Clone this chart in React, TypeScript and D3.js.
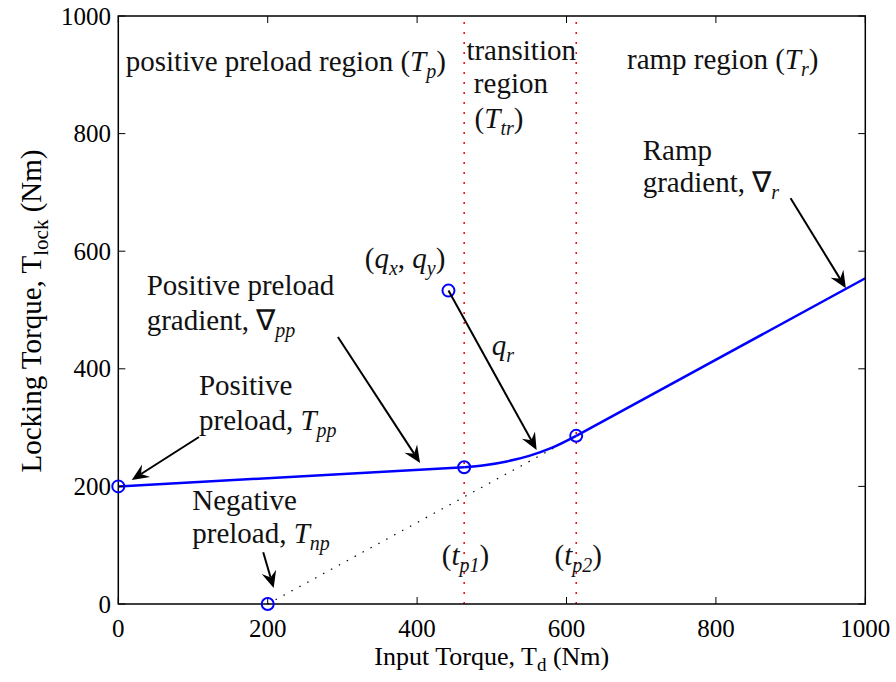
import React, { useEffect, useRef } from 'react';
import * as d3 from 'd3';

// curve (Nm)
const preloadX = [0, 463];
const preloadY = [200, 232.5];
const transitionX = [463, 490, 520, 550, 580, 613];
const transitionY = [232.5, 236, 242.5, 252, 265.5, 286];
const rampX = [613, 1000];
const rampY = [286, 554];
const extensionX = [200, 613];
const extensionY = [0, 286];
const markerX = [0, 200, 463, 613, 442];
const markerY = [200, 0, 232.5, 286, 533];
const boundaryX = [463, 613];
const xTicks = [0, 200, 400, 600, 800, 1000];
const yTicks = [0, 200, 400, 600, 800, 1000];

type Seg = { t: string; it?: boolean; sub?: boolean };
// annotation texts, positions in data units
const labels: { x: number; y: number; segs: Seg[] }[] = [
  { x: 10, y: 906, segs: [{ t: 'positive preload region (' }, { t: 'T', it: true }, { t: 'p', it: true, sub: true }, { t: ')' }] },
  { x: 466, y: 925, segs: [{ t: 'transition' }] },
  { x: 476, y: 869, segs: [{ t: 'region' }] },
  { x: 477, y: 809, segs: [{ t: '(' }, { t: 'T', it: true }, { t: 'tr', it: true, sub: true }, { t: ')' }] },
  { x: 681, y: 910, segs: [{ t: 'ramp region (' }, { t: 'T', it: true }, { t: 'r', it: true, sub: true }, { t: ')' }] },
  { x: 702, y: 755, segs: [{ t: 'Ramp' }] },
  { x: 702, y: 700, segs: [{ t: 'gradient, ∇' }, { t: 'r', it: true, sub: true }] },
  { x: 330, y: 571, segs: [{ t: '(' }, { t: 'q', it: true }, { t: 'x', it: true, sub: true }, { t: ', ' }, { t: 'q', it: true }, { t: 'y', it: true, sub: true }, { t: ')' }] },
  { x: 38, y: 525, segs: [{ t: 'Positive preload' }] },
  { x: 38, y: 466, segs: [{ t: 'gradient, ∇' }, { t: 'pp', it: true, sub: true }] },
  { x: 108, y: 355, segs: [{ t: 'Positive' }] },
  { x: 108, y: 296, segs: [{ t: 'preload, ' }, { t: 'T', it: true }, { t: 'pp', it: true, sub: true }] },
  { x: 500, y: 423, segs: [{ t: 'q', it: true }, { t: 'r', it: true, sub: true }] },
  { x: 99, y: 160, segs: [{ t: 'Negative' }] },
  { x: 99, y: 104, segs: [{ t: 'preload, ' }, { t: 'T', it: true }, { t: 'np', it: true, sub: true }] },
  { x: 433, y: 66, segs: [{ t: '(' }, { t: 't', it: true }, { t: 'p1', it: true, sub: true }, { t: ')' }] },
  { x: 584, y: 66, segs: [{ t: '(' }, { t: 't', it: true }, { t: 'p2', it: true, sub: true }, { t: ')' }] },
];

// arrows [x0, y0, x1, y1] in data units
const arrows = [
  [108, 284, 18, 211],
  [294, 454, 404, 240],
  [442, 533, 560, 262],
  [900, 690, 974, 537],
  [194, 88, 208, 27],
];

const W = 896, H = 682;
const FONT = '"Liberation Serif", "Times New Roman", serif';

export default function App() {
  const ref = useRef<SVGSVGElement>(null);

  useEffect(() => {
    document.body.style.margin = '0';
    const svg = d3.select(ref.current);
    svg.selectAll('*').remove();

    const x = d3.scaleLinear().domain([0, 1000]).range([118.3, 865.3]);
    const y = d3.scaleLinear().domain([0, 1000]).range([604, 16]);
    const [x0, x1] = x.range();
    const [y0, y1] = y.range();

    // red boundaries
    svg.selectAll('.bound').data(boundaryX).join('line')
      .attr('x1', d => x(d)).attr('x2', d => x(d))
      .attr('y1', y0).attr('y2', y1)
      .attr('stroke', '#ff0000').attr('stroke-width', 1.5)
      .attr('stroke-dasharray', '2,8');

    // ramp extension (dotted)
    const lineGen = d3.line<[number, number]>().x(d => x(d[0])).y(d => y(d[1]));
    svg.append('path')
      .attr('d', lineGen(d3.zip(extensionX, extensionY) as [number, number][]))
      .attr('fill', 'none').attr('stroke', '#000').attr('stroke-width', 1.2)
      .attr('stroke-dasharray', '1.5,7.5');

    // blue curve
    const blue = '#0000ff';
    svg.append('path')
      .attr('d', lineGen(d3.zip(preloadX, preloadY) as [number, number][]))
      .attr('fill', 'none').attr('stroke', blue).attr('stroke-width', 2.5);
    svg.append('path')
      .attr('d', lineGen.curve(d3.curveMonotoneX)(d3.zip(transitionX, transitionY) as [number, number][]))
      .attr('fill', 'none').attr('stroke', blue).attr('stroke-width', 2.5);
    lineGen.curve(d3.curveLinear);
    svg.append('path')
      .attr('d', lineGen(d3.zip(rampX, rampY) as [number, number][]))
      .attr('fill', 'none').attr('stroke', blue).attr('stroke-width', 2.5);

    // axes box and ticks
    svg.append('rect')
      .attr('x', x0).attr('y', y1).attr('width', x1 - x0).attr('height', y0 - y1)
      .attr('fill', 'none').attr('stroke', '#000').attr('stroke-width', 1.5);
    const tl = 7;
    xTicks.forEach(t => {
      svg.append('line').attr('x1', x(t)).attr('x2', x(t)).attr('y1', y0).attr('y2', y0 - tl).attr('stroke', '#000');
      svg.append('line').attr('x1', x(t)).attr('x2', x(t)).attr('y1', y1).attr('y2', y1 + tl).attr('stroke', '#000');
      svg.append('text').attr('x', x(t)).attr('y', 637).attr('text-anchor', 'middle')
        .attr('font-family', FONT).attr('font-size', 25).text(t);
    });
    yTicks.forEach(t => {
      svg.append('line').attr('x1', x0).attr('x2', x0 + tl).attr('y1', y(t)).attr('y2', y(t)).attr('stroke', '#000');
      svg.append('line').attr('x1', x1).attr('x2', x1 - tl).attr('y1', y(t)).attr('y2', y(t)).attr('stroke', '#000');
      svg.append('text').attr('x', 111).attr('y', y(t) + 8.5).attr('text-anchor', 'end')
        .attr('font-family', FONT).attr('font-size', 25).text(t);
    });

    // markers
    svg.selectAll('.mk').data(d3.range(markerX.length)).join('circle')
      .attr('cx', i => x(markerX[i])).attr('cy', i => y(markerY[i])).attr('r', 6)
      .attr('fill', 'none').attr('stroke', blue).attr('stroke-width', 2);

    // arrows
    arrows.forEach(([ax, ay, bx, by]) => {
      const px0 = x(ax), py0 = y(ay), px1 = x(bx), py1 = y(by);
      const ang = Math.atan2(py1 - py0, px1 - px0);
      const len = 17, half = 7.5, notch = 11;
      const ux = Math.cos(ang), uy = Math.sin(ang);
      const bxp = px1 - ux * len, byp = py1 - uy * len;
      svg.append('line').attr('x1', px0).attr('y1', py0)
        .attr('x2', px1 - ux * notch).attr('y2', py1 - uy * notch)
        .attr('stroke', '#000').attr('stroke-width', 2);
      const pts = [
        [px1, py1],
        [bxp - uy * half, byp + ux * half],
        [px1 - ux * notch, py1 - uy * notch],
        [bxp + uy * half, byp - ux * half],
      ];
      svg.append('polygon').attr('points', pts.map(p => p.join(',')).join(' ')).attr('fill', '#000');
    });

    // annotations
    labels.forEach(l => {
      const t = svg.append('text').attr('x', x(l.x)).attr('y', y(l.y))
        .attr('font-family', FONT).attr('font-size', 29).attr('fill', '#111');
      let low = false;
      l.segs.forEach(s => {
        const sp = t.append('tspan').text(s.t);
        if (s.it) sp.attr('font-style', 'italic');
        if (s.sub) { sp.attr('font-size', 20); if (!low) sp.attr('dy', 7); low = true; }
        else if (low) { sp.attr('dy', -7); low = false; }
      });
    });

    // axis labels
    const xl = svg.append('text').attr('x', (x0 + x1) / 2).attr('y', 665).attr('text-anchor', 'middle')
      .attr('font-family', FONT).attr('font-size', 26);
    xl.append('tspan').text('Input Torque, T');
    xl.append('tspan').text('d').attr('font-size', 19).attr('dy', 6);
    xl.append('tspan').text(' (Nm)').attr('dy', -6);

    const yl = svg.append('text').attr('transform', 'translate(41,311) rotate(-90)').attr('text-anchor', 'middle')
      .attr('font-family', FONT).attr('font-size', 29);
    yl.append('tspan').text('Locking Torque, T');
    yl.append('tspan').text('lock').attr('font-size', 21).attr('dy', 7);
    yl.append('tspan').text(' (Nm)').attr('dy', -7);
  }, []);

  return <svg ref={ref} width={W} height={H} style={{ display: 'block', background: '#fff' }} />;
}
